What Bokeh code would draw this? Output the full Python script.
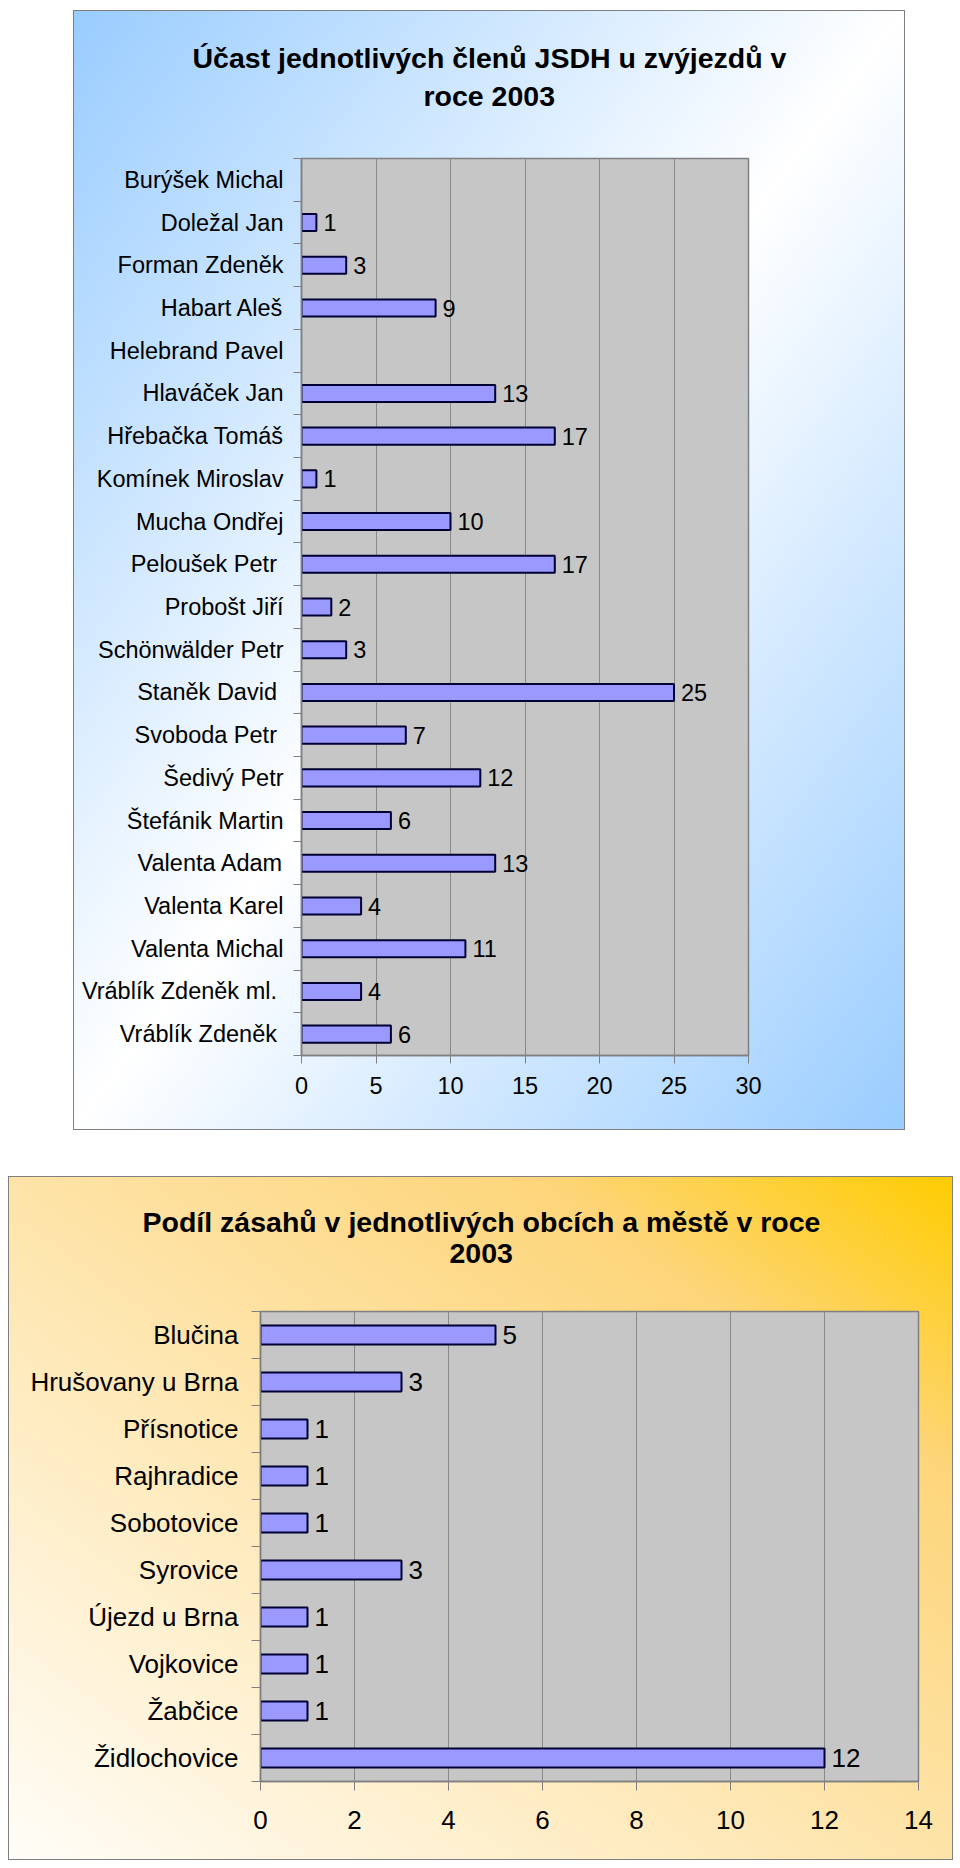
from bokeh.plotting import figure
from bokeh.models import (Range1d, LinearAxis, FixedTicker, ColumnDataSource,
                          Title)
from bokeh.embed import file_html
from bokeh.resources import INLINE
from bokeh.core.properties import value

FONT = "Liberation Sans"

# ---- chart 1 data ----
members = ["Burýšek Michal", "Doležal Jan", "Forman Zdeněk", "Habart Aleš",
           "Helebrand Pavel", "Hlaváček Jan", "Hřebačka Tomáš", "Komínek Miroslav",
           "Mucha Ondřej", "Peloušek Petr ", "Probošt Jiří", "Schönwälder Petr",
           "Staněk David ", "Svoboda Petr ", "Šedivý Petr", "Štefánik Martin",
           "Valenta Adam", "Valenta Karel", "Valenta Michal", "Vráblík  Zdeněk ml.",
           "Vráblík Zdeněk "]
member_counts = [None, 1, 3, 9, None, 13, 17, 1, 10, 17, 2, 3, 25, 7, 12, 6,
                 13, 4, 11, 4, 6]
member_ticks = [0, 5, 10, 15, 20, 25, 30]
title1_lines = ["Účast jednotlivých členů JSDH u zvýjezdů v", "roce 2003"]

# ---- chart 2 data ----
towns = ["Blučina", "Hrušovany u Brna", "Přísnotice", "Rajhradice", "Sobotovice",
         "Syrovice", "Újezd u Brna", "Vojkovice", "Žabčice", "Židlochovice"]
town_counts = [5, 3, 1, 1, 1, 3, 1, 1, 1, 12]
town_ticks = [0, 2, 4, 6, 8, 10, 12, 14]
title2_lines = ["Podíl zásahů v jednotlivých obcích a městě v roce", "2003"]


def make_chart(names, counts, ticks, title_lines, w, h, borders, margin,
               gradient, label_px, tick_out, cat_standoff, x_standoff,
               title_offsets, title_gap, title_px):
    left, right, top, bottom = borders
    n = len(names)
    # category i (listed top to bottom) sits at slot n-1-i
    slots = [n - 1 - i for i in range(n)]
    p = figure(width=w, height=h,
               y_range=Range1d(-0.5, n - 0.5),
               x_range=Range1d(ticks[0], ticks[-1]),
               output_backend="svg", toolbar_location=None,
               y_axis_location=None,
               min_border_left=left, min_border_right=right,
               min_border_top=top, min_border_bottom=bottom,
               background_fill_color="#C6C6C6", border_fill_color=None,
               outline_line_color="#808080", outline_line_width=1.5,
               margin=margin,
               styles={"background": gradient,
                       "outline": "1px solid #7f7f7f",
                       "outline-offset": "-1px"})

    # default title unused
    p.title.text = ""
    p.title.standoff = 0
    p.title.text_font_size = "1px"

    # spacer between the frame and the title lines (stacked from the frame out)
    p.add_layout(Title(text=" ", text_font_size="1px", standoff=title_gap), "above")
    # title lines, lowest line first
    for line, off in reversed(list(zip(title_lines, title_offsets))):
        p.add_layout(Title(text=line, align="left", offset=off, standoff=4,
                           text_font=FONT, text_font_size=f"{title_px}px",
                           text_font_style="bold", text_color="black"), "above")

    ax = p.xaxis[0]
    ax.ticker = FixedTicker(ticks=ticks)
    ax.major_tick_out = tick_out
    ax.major_tick_in = 0
    ax.minor_tick_out = 0
    ax.minor_tick_in = 0
    ax.axis_line_color = "#808080"
    ax.axis_line_width = 1.5
    ax.major_tick_line_color = "#808080"
    ax.major_label_text_font = FONT
    ax.major_label_text_font_size = f"{label_px}px"
    ax.major_label_text_color = "black"
    ax.major_label_standoff = x_standoff

    p.xgrid.ticker = FixedTicker(ticks=ticks)
    p.xgrid.grid_line_color = "#8a8a8a"
    p.ygrid.grid_line_color = None

    # category names at slot centres, tick marks between categories
    cax = LinearAxis(ticker=FixedTicker(ticks=slots,
                                        minor_ticks=[k - 0.5 for k in range(n + 1)]),
                     major_label_overrides={s: nm for s, nm in zip(slots, names)},
                     major_tick_out=0, major_tick_in=0,
                     minor_tick_out=tick_out, minor_tick_in=0,
                     axis_line_color="#808080", axis_line_width=1.5,
                     minor_tick_line_color="#808080",
                     major_label_text_font=FONT,
                     major_label_text_font_size=f"{label_px}px",
                     major_label_text_color="black",
                     major_label_standoff=cat_standoff)
    p.add_layout(cax, "left")

    shown = [(s, c) for s, c in zip(slots, counts) if c is not None]
    src = ColumnDataSource(dict(slot=[s for s, _ in shown],
                                count=[c for _, c in shown],
                                label=[str(c) for _, c in shown]))
    p.hbar(y="slot", left=0, right="count", height=0.4, source=src,
           fill_color="#9999FF", line_color="#000033", line_width=2)
    p.text(x="count", y="slot", text="label", source=src, x_offset=7,
           text_baseline="middle", text_align="left",
           text_font=value(FONT), text_font_size=f"{label_px}px",
           text_color="black")
    return p


p1 = make_chart(members, member_counts, member_ticks, title1_lines,
                w=832, h=1120, borders=(228, 157, 148, 75), margin=(10, 0, 0, 73),
                gradient="linear-gradient(to bottom right, #99ccff 0%, #ffffff 50%, #99ccff 100%)",
                label_px=23.5, tick_out=8, cat_standoff=10, x_standoff=13,
                title_offsets=[-109, 122], title_gap=42, title_px=28.5)

p2 = make_chart(towns, town_counts, town_ticks, title2_lines,
                w=945, h=684, borders=(252, 35, 135, 79), margin=(46, 0, 0, 8),
                gradient="linear-gradient(to top right, #fffdf8 0%, #fee6b0 45%, #fdd57a 78%, #ffcc00 100%)",
                label_px=26, tick_out=9, cat_standoff=13, x_standoff=20,
                title_offsets=[-118, 189], title_gap=44, title_px=28.5)

open("out.html", "w").write(file_html([p1, p2], INLINE))
